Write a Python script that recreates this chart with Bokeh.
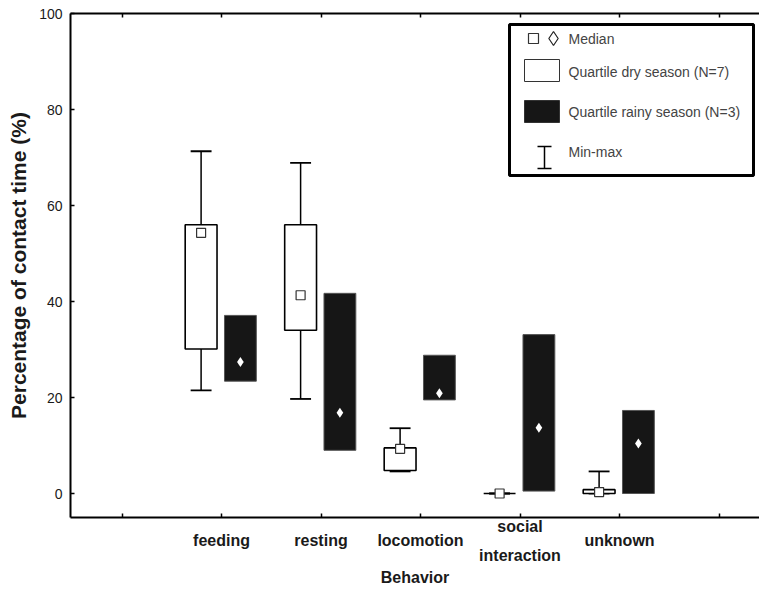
from bokeh.plotting import figure
from bokeh.models import Range1d, FixedTicker, LinearAxis, ColumnDataSource
from bokeh.embed import file_html
from bokeh.resources import INLINE
from bokeh.core.properties import value

# ---- data ----
categories = ["feeding", "resting", "locomotion", "social interaction", "unknown"]
positions = [1, 2, 3, 4, 5]
dry_min = [21.5, 19.7, 4.6, 0.0, 0.0]
dry_q1 = [30.1, 34.0, 4.8, 0.0, 0.0]
dry_median = [54.3, 41.3, 9.3, 0.0, 0.3]
dry_q3 = [56.0, 56.0, 9.5, 0.0, 0.8]
dry_max = [71.3, 68.9, 13.6, 0.0, 4.6]
rainy_q1 = [23.4, 9.0, 19.5, 0.5, 0.0]
rainy_median = [27.4, 16.8, 20.9, 13.7, 10.4]
rainy_q3 = [37.1, 41.7, 28.8, 33.1, 17.3]
y_ticks = [0, 20, 40, 60, 80, 100]
legend_labels = ["Median", "Quartile dry season (N=7)", "Quartile rainy season (N=3)", "Min-max"]

FONT = "Liberation Sans"
DRY_OFF, RAINY_OFF, BOX_W, CAP_W = -0.205, 0.19, 0.32, 0.21

# frame geometry (pixels)
W, H = 759, 589
FL, FT, FB = 70, 13, 72
FW, FH = W - FL, H - FT - FB
X0 = -0.5176
PX_PER_X = 99.5
X1 = X0 + FW / PX_PER_X
Y0, Y1 = -5, 100

p = figure(width=W, height=H, x_range=Range1d(X0, X1), y_range=Range1d(Y0, Y1),
           output_backend="svg", toolbar_location=None,
           min_border_left=FL, min_border_right=0, min_border_top=FT, min_border_bottom=FB)
p.xgrid.visible = False
p.ygrid.visible = False
p.outline_line_color = None
p.background_fill_color = "white"
p.border_fill_color = "white"


def tick_text(name):
    # one-word names sit on the middle line, two-word names use the outer lines,
    # so single-line labels end up centred between the two lines
    words = name.split(" ")
    if len(words) == 1:
        return "\n" + name
    return words[0] + "\n\n" + " ".join(words[1:])


# bottom axis
xa = p.xaxis[0]
xa.ticker = FixedTicker(ticks=[0, 1, 2, 3, 4, 5, 6])
overrides = {0: "", 6: ""}
for pos, c in zip(positions, categories):
    overrides[pos] = tick_text(c)
xa.major_label_overrides = overrides
xa.major_tick_in = 4
xa.major_tick_out = 0
xa.minor_tick_in = 0
xa.minor_tick_out = 0
xa.axis_line_width = 2
xa.major_tick_line_width = 1.5
xa.major_label_text_font = FONT
xa.major_label_text_font_style = "bold"
xa.major_label_text_font_size = "16px"
xa.major_label_text_color = "#1a1a1a"
xa.major_label_text_line_height = 0.88
xa.major_label_standoff = 0
xa.axis_label = "Behavior"
xa.axis_label_text_font = FONT
xa.axis_label_text_font_style = "bold"
xa.axis_label_text_font_size = "16px"
xa.axis_label_text_color = "#1a1a1a"
xa.axis_label_standoff = 2

# left axis
ya = p.yaxis[0]
ya.ticker = FixedTicker(ticks=y_ticks)
ya.major_tick_in = 4
ya.major_tick_out = 0
ya.minor_tick_in = 0
ya.minor_tick_out = 0
ya.axis_line_width = 2
ya.major_tick_line_width = 1.5
ya.major_label_text_font = FONT
ya.major_label_text_font_size = "14px"
ya.major_label_text_color = "#1a1a1a"
ya.major_label_standoff = 8
ya.axis_label = "Percentage of contact time (%)"
ya.axis_label_text_font = FONT
ya.axis_label_text_font_style = "bold"
ya.axis_label_text_font_size = "21px"
ya.axis_label_text_color = "#1a1a1a"
ya.axis_label_standoff = 6

# top spine with inward ticks
top = LinearAxis(ticker=FixedTicker(ticks=[0, 1, 2, 3, 4, 5, 6]),
                 major_label_overrides={i: "" for i in range(7)},
                 major_tick_in=4, major_tick_out=0, minor_tick_in=0, minor_tick_out=0,
                 major_label_text_font_size="1px", major_label_standoff=0,
                 axis_line_width=2, major_tick_line_width=1.5)
p.add_layout(top, "above")

# ---- dry season boxes ----
dry_x = [x + DRY_OFF for x in positions]
dry = ColumnDataSource(dict(x=dry_x, lo=dry_min, q1=dry_q1, med=dry_median, q3=dry_q3, hi=dry_max,
                            cl=[x - CAP_W / 2 for x in dry_x], cr=[x + CAP_W / 2 for x in dry_x]))
p.segment(x0="x", y0="q3", x1="x", y1="hi", source=dry, line_color="black", line_width=1.5)
p.segment(x0="x", y0="lo", x1="x", y1="q1", source=dry, line_color="black", line_width=1.5)
p.segment(x0="cl", y0="hi", x1="cr", y1="hi", source=dry, line_color="black", line_width=1.8)
p.segment(x0="cl", y0="lo", x1="cr", y1="lo", source=dry, line_color="black", line_width=1.8)
p.vbar(x="x", width=BOX_W, bottom="q1", top="q3", source=dry,
       fill_color="white", line_color="black", line_width=1.6)
p.scatter(x="x", y="med", source=dry, marker="square", size=9,
          fill_color="white", line_color="#333333", line_width=1.2)

# ---- rainy season boxes ----
rainy_x = [x + RAINY_OFF for x in positions]
rainy = ColumnDataSource(dict(x=rainy_x, q1=rainy_q1, med=rainy_median, q3=rainy_q3))
p.vbar(x="x", width=BOX_W, bottom="q1", top="q3", source=rainy,
       fill_color="#161616", line_color="#555555", line_width=1)
p.scatter(x="x", y="med", source=rainy, marker="diamond", size=10,
          fill_color="white", line_color=None)

# ---- custom legend (placed in pixel terms, converted to data units) ----
def dx(px):
    return X0 + (px - FL) / PX_PER_X

def dy(py):
    return Y1 - (py - FT) / FH * (Y1 - Y0)

p.quad(left=[dx(509)], right=[dx(753)], top=[dy(24)], bottom=[dy(175)],
       fill_color="white", line_color="black", line_width=3)
p.scatter(x=[dx(533)], y=[dy(38)], marker="square", size=10, fill_color="white",
          line_color="#333333", line_width=1.2)
p.scatter(x=[dx(553)], y=[dy(38)], marker="diamond", size=14, fill_color="white",
          line_color="#222222", line_width=1.2)
p.quad(left=[dx(524)], right=[dx(559)], top=[dy(59)], bottom=[dy(81)],
       fill_color="white", line_color="#333333", line_width=1)
p.quad(left=[dx(524)], right=[dx(559)], top=[dy(100)], bottom=[dy(122)],
       fill_color="#161616", line_color="#333333", line_width=1)
p.segment(x0=[dx(544)], y0=[dy(146)], x1=[dx(544)], y1=[dy(168)], line_color="black", line_width=1.5)
p.segment(x0=[dx(537), dx(537)], y0=[dy(146), dy(168)], x1=[dx(551), dx(551)],
          y1=[dy(146), dy(168)], line_color="black", line_width=1.5)
p.text(x=[dx(568)] * 4, y=[dy(38), dy(71), dy(111), dy(151)], text=legend_labels,
       text_font=value(FONT), text_font_size="14px", text_color="#444444",
       text_baseline="middle", text_align="left")

open("out.html", "w").write(file_html(p, INLINE))
